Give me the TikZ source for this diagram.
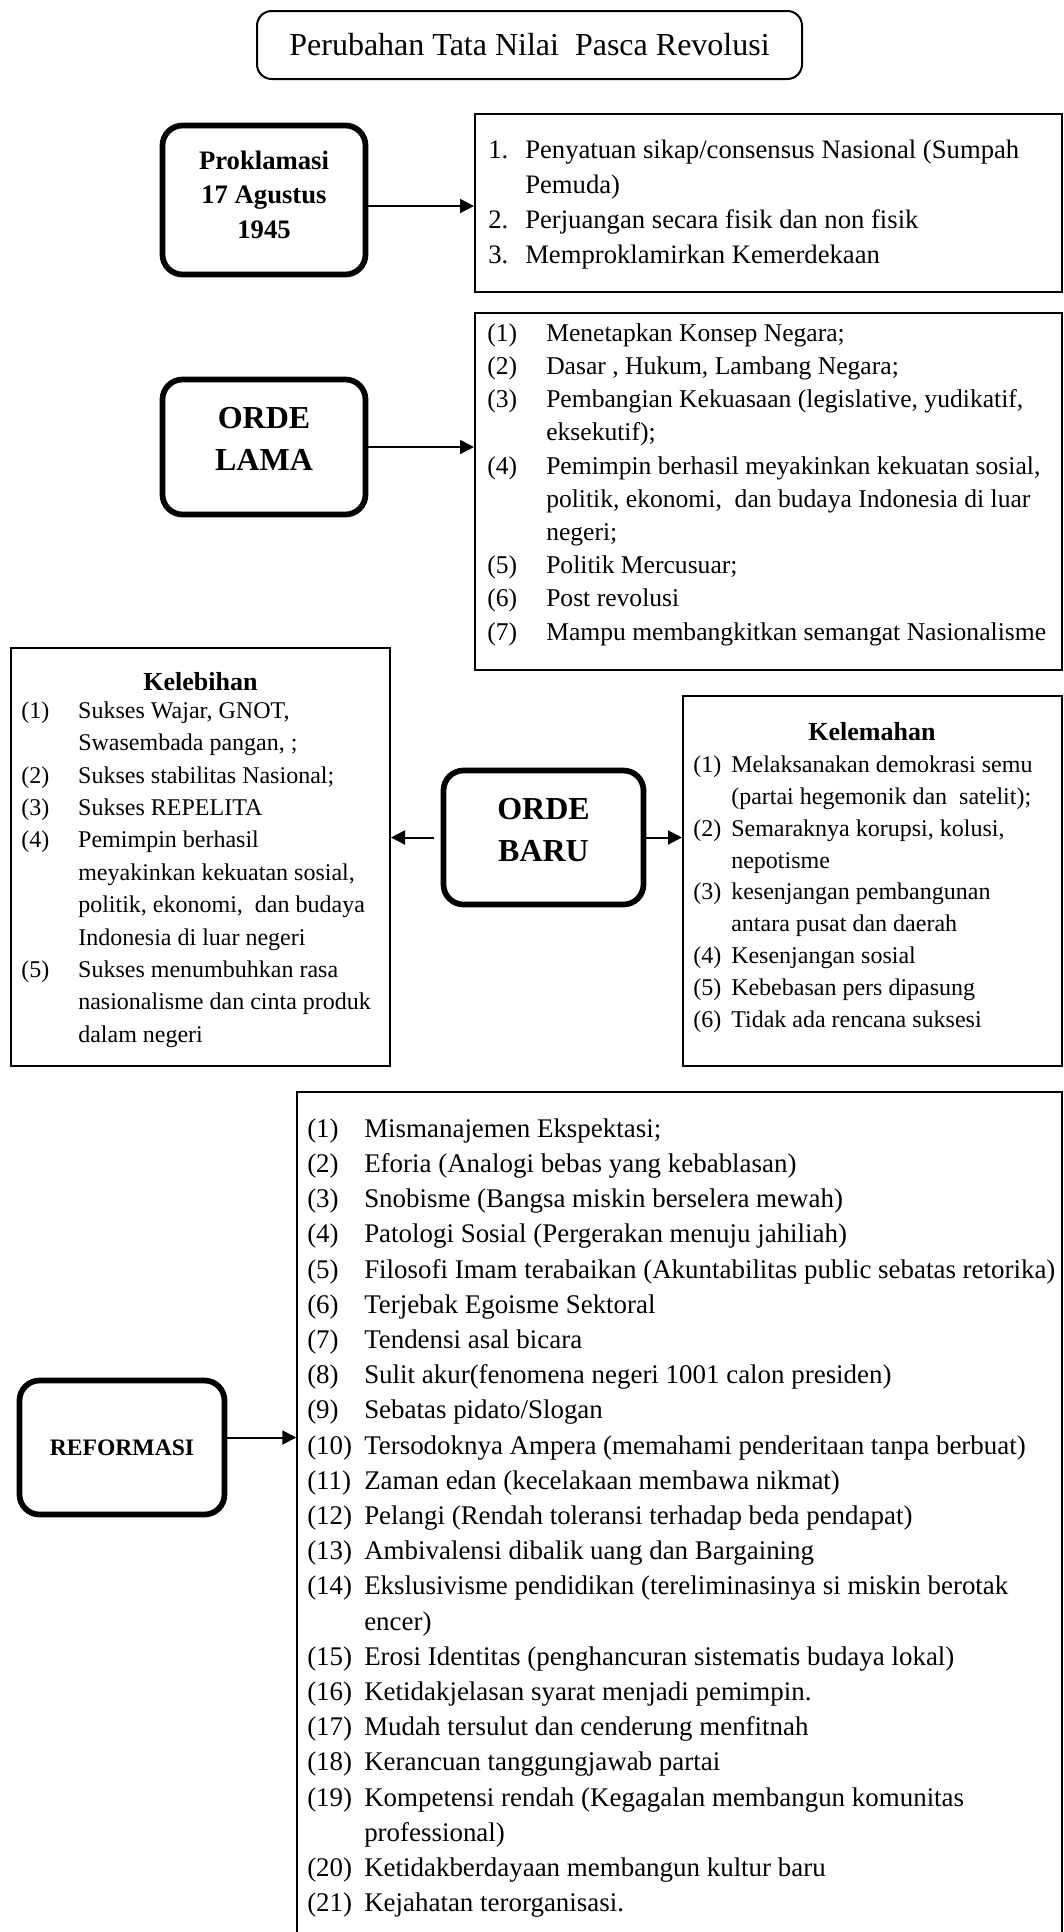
\documentclass[tikz,border=0pt]{standalone}
\usepackage{fontspec}
\setmainfont{Liberation Serif}
\usetikzlibrary{arrows.meta}

% one drawing unit = one pixel of the layout grid
\newdimen\pxu \pxu=0.75pt
\newcommand\fs[2]{\fontsize{#1}{#2}\selectfont}
% numbered list lines: label in a fixed-width column, continuation lines indented
\newcommand\ItemL[1]{\strut\makebox[\labw\pxu][l]{#1}}
\newcommand\ContL{\strut\hspace*{\labw\pxu}}

\tikzset{
  listbox/.style={draw, line width=1.5pt, inner sep=0pt},
  heavybox/.style={draw, line width=4.3pt, rounded corners=15pt, inner sep=0pt},
  titlebox/.style={draw, line width=1.5pt, rounded corners=11pt, inner sep=0pt},
  listtext/.style={inner sep=0pt, anchor=north west, align=left},
  headtext/.style={inner sep=0pt, anchor=north, align=center},
  arr/.style={line width=1.5pt, -{Triangle[length=10.5pt,width=10.5pt]}},
}

\begin{document}
\begin{tikzpicture}[x=0.75pt,y=-0.75pt]
\useasboundingbox (0,0) rectangle (1064,1932);

% heading
\node[titlebox, minimum width=545*\pxu, minimum height=68*\pxu, font=\fs{24pt}{28pt}]
  (title) at (529.5,45) {Perubahan Tata Nilai~ Pasca Revolusi};

% --- Proklamasi ---
\node[heavybox, minimum width=203*\pxu, minimum height=149*\pxu] (prok) at (264,200) {};
\node[headtext, font=\bfseries\fs{20pt}{25.9pt}] (proktext) at (264,144.9)
  {\strut Proklamasi\\\strut 17 Agustus\\\strut 1945};
\node[listbox, minimum width=587*\pxu, minimum height=178*\pxu] (l1) at (768.5,203) {};
\node[listtext, font=\fs{20pt}{26.25pt}\def\labw{37}] (l1text) at (488,134) {%
  \ItemL{1.}Penyatuan sikap/consensus Nasional (Sumpah\\
  \ContL Pemuda)\\
  \ItemL{2.}Perjuangan secara fisik dan non fisik\\
  \ItemL{3.}Memproklamirkan Kemerdekaan};
\coordinate (a1) at ([yshift=-4.5pt]prok.east);
\draw[arr] (a1) -- (a1 -| l1.west);

% --- Orde Lama ---
\node[heavybox, minimum width=203*\pxu, minimum height=135*\pxu] (ol) at (264,447) {};
\node[headtext, font=\bfseries\fs{24pt}{31.5pt}] (oltext) at (264,399.1)
  {\strut ORDE\\\strut LAMA};
\node[listbox, minimum width=587*\pxu, minimum height=357*\pxu] (l2) at (768.5,491.5) {};
\node[listtext, font=\fs{19.2pt}{24.9pt}\def\labw{59}] (l2text) at (487,317.8) {%
  \ItemL{(1)}Menetapkan Konsep Negara;\\
  \ItemL{(2)}Dasar , Hukum, Lambang Negara;\\
  \ItemL{(3)}Pembangian Kekuasaan (legislative, yudikatif,\\
  \ContL eksekutif);\\
  \ItemL{(4)}Pemimpin berhasil meyakinkan kekuatan sosial,\\
  \ContL politik, ekonomi,~ dan budaya Indonesia di luar\\
  \ContL negeri;\\
  \ItemL{(5)}Politik Mercusuar;\\
  \ItemL{(6)}Post revolusi\\
  \ItemL{(7)}Mampu membangkitkan semangat Nasionalisme};
\draw[arr] (ol.east) -- (ol.east -| l2.west);

% --- Orde Baru ---
\node[heavybox, minimum width=200*\pxu, minimum height=134*\pxu] (ob) at (543.5,837.5) {};
\node[headtext, font=\bfseries\fs{24pt}{31.5pt}] (obtext) at (543.5,789.6)
  {\strut ORDE\\\strut BARU};

\node[listbox, minimum width=379*\pxu, minimum height=418*\pxu] (kel) at (200.5,857) {};
\node[inner sep=0pt, anchor=base, font=\bfseries\fs{19.5pt}{23pt}] (kelhead) at (200.5,690.5) {Kelebihan};
\node[listtext, font=\fs{18pt}{24.3pt}\def\labw{57}] (keltext) at (21,695.3) {%
  \ItemL{(1)}Sukses Wajar, GNOT,\\
  \ContL Swasembada pangan, ;\\
  \ItemL{(2)}Sukses stabilitas Nasional;\\
  \ItemL{(3)}Sukses REPELITA\\
  \ItemL{(4)}Pemimpin berhasil\\
  \ContL meyakinkan kekuatan sosial,\\
  \ContL politik, ekonomi,~ dan budaya\\
  \ContL Indonesia di luar negeri\\
  \ItemL{(5)}Sukses menumbuhkan rasa\\
  \ContL nasionalisme dan cinta produk\\
  \ContL dalam negeri};

\node[listbox, minimum width=379*\pxu, minimum height=370*\pxu] (kem) at (872.5,881) {};
\node[inner sep=0pt, anchor=base, font=\bfseries\fs{19.5pt}{23pt}] (kemhead) at (872,740) {Kelemahan};
\node[listtext, font=\fs{18pt}{23.93pt}\def\labw{38}] (kemtext) at (693,749.7) {%
  \ItemL{(1)}Melaksanakan demokrasi semu\\
  \ContL (partai hegemonik dan~ satelit);\\
  \ItemL{(2)}Semaraknya korupsi, kolusi,\\
  \ContL nepotisme\\
  \ItemL{(3)}kesenjangan pembangunan\\
  \ContL antara pusat dan daerah\\
  \ItemL{(4)}Kesenjangan sosial\\
  \ItemL{(5)}Kebebasan pers dipasung\\
  \ItemL{(6)}Tidak ada rencana suksesi};

\draw[arr, shorten <=5pt] (ob.west) -- (ob.west -| kel.east);
\draw[arr] (ob.east) -- (ob.east -| kem.west);

% --- Reformasi ---
\node[heavybox, minimum width=205*\pxu, minimum height=134*\pxu] (ref) at (122,1447.5) {};
\node[inner sep=0pt, anchor=base, font=\bfseries\fs{17.7pt}{21pt}] (reftext) at (122,1455) {REFORMASI};
\node[listbox, minimum width=765*\pxu, minimum height=876*\pxu] (rl) at (679.75,1530) {};
\node[listtext, font=\fs{20.2pt}{26.4pt}\def\labw{57}] (rltext) at (307,1112.4) {%
  \ItemL{(1)}Mismanajemen Ekspektasi;\\
  \ItemL{(2)}Eforia (Analogi bebas yang kebablasan)\\
  \ItemL{(3)}Snobisme (Bangsa miskin berselera mewah)\\
  \ItemL{(4)}Patologi Sosial (Pergerakan menuju jahiliah)\\
  \ItemL{(5)}Filosofi Imam terabaikan (Akuntabilitas public sebatas retorika)\\
  \ItemL{(6)}Terjebak Egoisme Sektoral\\
  \ItemL{(7)}Tendensi asal bicara\\
  \ItemL{(8)}Sulit akur(fenomena negeri 1001 calon presiden)\\
  \ItemL{(9)}Sebatas pidato/Slogan\\
  \ItemL{(10)}Tersodoknya Ampera (memahami penderitaan tanpa berbuat)\\
  \ItemL{(11)}Zaman edan (kecelakaan membawa nikmat)\\
  \ItemL{(12)}Pelangi (Rendah toleransi terhadap beda pendapat)\\
  \ItemL{(13)}Ambivalensi dibalik uang dan Bargaining\\
  \ItemL{(14)}Ekslusivisme pendidikan (tereliminasinya si miskin berotak\\
  \ContL encer)\\
  \ItemL{(15)}Erosi Identitas (penghancuran sistematis budaya lokal)\\
  \ItemL{(16)}Ketidakjelasan syarat menjadi pemimpin.\\
  \ItemL{(17)}Mudah tersulut dan cenderung menfitnah\\
  \ItemL{(18)}Kerancuan tanggungjawab partai\\
  \ItemL{(19)}Kompetensi rendah (Kegagalan membangun komunitas\\
  \ContL professional)\\
  \ItemL{(20)}Ketidakberdayaan membangun kultur baru\\
  \ItemL{(21)}Kejahatan terorganisasi.};
\coordinate (a4) at ([yshift=7.5pt]ref.east);
\draw[arr] (a4) -- (a4 -| rl.west);

\end{tikzpicture}
\end{document}
